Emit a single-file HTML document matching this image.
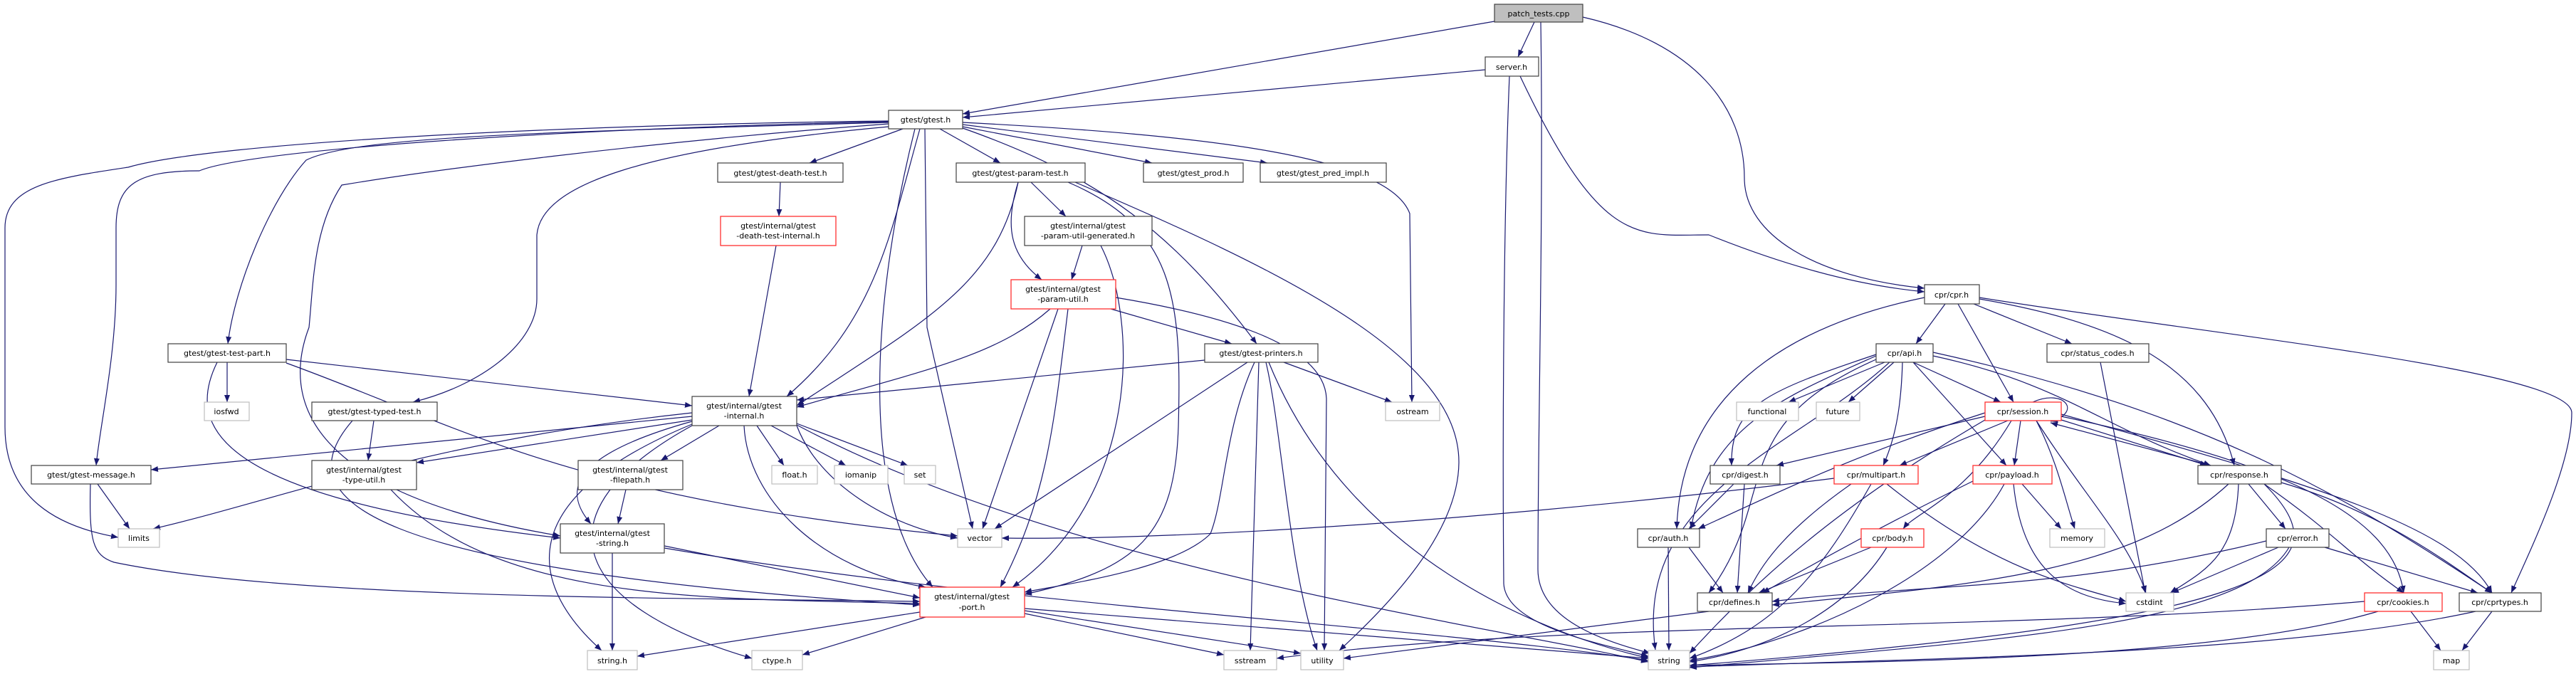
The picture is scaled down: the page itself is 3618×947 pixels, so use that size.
<!DOCTYPE html>
<html><head><meta charset="utf-8"><style>
html,body{margin:0;padding:0;background:#fff;}
svg{display:block;}
text{font-family:"DejaVu Sans","Liberation Sans",sans-serif;font-size:11px;fill:#000;}
.e{fill:none;stroke:#191970;stroke-width:1.2;marker-end:url(#a);}
.n rect{fill:#fff;stroke:#404040;stroke-width:1.2;}
.g rect{fill:#fff;stroke:#bfbfbf;stroke-width:1.2;}
.r rect{fill:#fff;stroke:#ff3030;stroke-width:1.3;}
</style></head><body>
<svg width="3618" height="947" viewBox="0 0 3618 947" xmlns="http://www.w3.org/2000/svg">
<defs><marker id="a" markerUnits="userSpaceOnUse" markerWidth="11" markerHeight="8" refX="10" refY="4" orient="auto"><path d="M0,0 L10,4 L0,8 z" fill="#191970"/></marker></defs>
<g>
<path class="e" d="M2099,30 L1352,160"/>
<path class="e" d="M2155,31 L2132,80"/>
<path class="e" d="M2164,31 C2168,300 2160,600 2160,800 C2160,870 2250,900 2318,918"/>
<path class="e" d="M2223,24 C2380,60 2450,150 2450,250 C2450,330 2550,390 2703,405"/>
<path class="e" d="M2086,98 L1352,165"/>
<path class="e" d="M2120,107 C2112,300 2110,600 2112,820 C2115,880 2250,905 2315,922"/>
<path class="e" d="M2135,107 C2250,350 2300,330 2400,330 C2500,370 2600,400 2703,410"/>
<path class="e" d="M1248,170 C800,175 300,200 180,235 C80,250 7,260 7,320 L7,600 C7,700 80,740 166,755"/>
<path class="e" d="M1248,171 C800,180 350,210 280,240 C190,240 163,260 163,320 L163,400 C163,500 140,600 135,654"/>
<path class="e" d="M1248,172 C800,185 500,190 430,225 C380,280 330,400 320,483"/>
<path class="e" d="M1248,174 C900,200 600,240 480,260 C440,320 440,400 434,460 C396,560 428,693 787,753"/>
<path class="e" d="M1248,178 C900,210 760,260 754,330 L754,420 C754,480 680,540 580,565"/>
<path class="e" d="M1268,181 L1137,229"/>
<path class="e" d="M1320,181 L1405,229"/>
<path class="e" d="M1352,178 L1618,229"/>
<path class="e" d="M1352,175 L1780,229"/>
<path class="e" d="M1352,180 C1550,250 1650,330 1765,483"/>
<path class="e" d="M1352,172 C1700,190 1950,220 1980,300 L1983,565"/>
<path class="e" d="M1299,181 L1302,460 L1366,743"/>
<path class="e" d="M1292,181 C1250,330 1230,450 1105,557"/>
<path class="e" d="M1285,181 C1230,400 1200,700 1310,825"/>
<path class="e" d="M319,509 L319,565"/>
<path class="e" d="M402,505 L972,570"/>
<path class="e" d="M305,509 C260,600 300,700 787,756"/>
<path class="e" d="M402,510 C650,600 800,700 1345,753"/>
<path class="e" d="M525,591 L517,647"/>
<path class="e" d="M495,591 C400,700 500,800 1292,850"/>
<path class="e" d="M1096,256 L1094,304"/>
<path class="e" d="M1090,345 L1052,557"/>
<path class="e" d="M972,585 L212,660"/>
<path class="e" d="M972,580 C600,620 400,700 215,743"/>
<path class="e" d="M972,590 L585,650"/>
<path class="e" d="M1010,598 L928,647"/>
<path class="e" d="M972,592 C800,640 790,690 830,736"/>
<path class="e" d="M972,596 C720,700 740,820 845,914"/>
<path class="e" d="M972,598 C750,720 800,850 1056,925"/>
<path class="e" d="M1063,598 L1101,654"/>
<path class="e" d="M1083,598 L1188,654"/>
<path class="e" d="M1119,595 L1275,654"/>
<path class="e" d="M1119,598 C1150,680 1250,740 1345,756"/>
<path class="e" d="M1045,598 C1050,700 1150,800 1300,825"/>
<path class="e" d="M1119,597 C1500,800 2100,880 2315,930"/>
<path class="e" d="M137,680 L182,743"/>
<path class="e" d="M127,680 C125,760 130,780 160,790 C400,840 900,840 1292,845"/>
<path class="e" d="M549,688 C700,850 1000,840 1292,848"/>
<path class="e" d="M879,688 L868,736"/>
<path class="e" d="M860,777 L860,914"/>
<path class="e" d="M933,767 L1292,840"/>
<path class="e" d="M933,770 C1400,850 2000,880 2315,928"/>
<path class="e" d="M1292,860 L895,922"/>
<path class="e" d="M1300,867 L1127,920"/>
<path class="e" d="M1439,862 L1719,920"/>
<path class="e" d="M1439,858 L1827,918"/>
<path class="e" d="M1439,855 L2315,925"/>
<path class="e" d="M1448,256 L1497,304"/>
<path class="e" d="M1430,256 C1410,320 1420,360 1463,393"/>
<path class="e" d="M1430,256 C1400,400 1300,450 1119,570"/>
<path class="e" d="M1500,256 C1650,320 1660,420 1655,600 C1650,750 1600,800 1439,835"/>
<path class="e" d="M1510,256 C1800,380 2050,500 2049,650 C2048,750 1950,850 1881,914"/>
<path class="e" d="M1520,345 L1505,393"/>
<path class="e" d="M1546,345 C1600,450 1600,700 1422,825"/>
<path class="e" d="M1475,434 C1400,500 1300,520 1119,572"/>
<path class="e" d="M1560,434 L1730,483"/>
<path class="e" d="M1486,434 L1380,743"/>
<path class="e" d="M1500,434 C1480,600 1470,700 1405,825"/>
<path class="e" d="M1567,418 C1700,440 1860,480 1863,560 L1860,914"/>
<path class="e" d="M1692,506 L1119,562"/>
<path class="e" d="M1803,509 L1955,565"/>
<path class="e" d="M1752,509 L1397,743"/>
<path class="e" d="M1762,509 C1720,600 1720,700 1700,750 C1650,800 1500,820 1439,832"/>
<path class="e" d="M1768,509 L1756,914"/>
<path class="e" d="M1778,509 C1800,600 1810,800 1850,914"/>
<path class="e" d="M1782,509 C1900,800 2200,900 2318,925"/>
<path class="e" d="M2732,427 L2691,483"/>
<path class="e" d="M2703,418 C2500,460 2360,560 2355,743"/>
<path class="e" d="M2750,427 L2828,565"/>
<path class="e" d="M2772,427 L2910,483"/>
<path class="e" d="M2780,420 C2950,450 3100,500 3138,654"/>
<path class="e" d="M2780,418 C3100,470 3612,520 3612,580 C3612,650 3560,760 3527,833"/>
<path class="e" d="M2647,509 L2512,565"/>
<path class="e" d="M2660,509 L2596,565"/>
<path class="e" d="M2687,509 L2810,565"/>
<path class="e" d="M2635,498 C2480,550 2430,570 2432,654"/>
<path class="e" d="M2672,509 C2670,580 2660,620 2645,654"/>
<path class="e" d="M2687,509 L2818,654"/>
<path class="e" d="M2715,500 C2900,540 2950,600 3105,654"/>
<path class="e" d="M2715,495 C3100,580 3300,700 3500,833"/>
<path class="e" d="M2635,500 C2500,560 2400,600 2375,743"/>
<path class="e" d="M2635,505 C2420,600 2500,700 2400,833"/>
<path class="e" d="M2656,507 C2524,630 2294,693 2325,913"/>
<path class="e" d="M2950,509 L3013,833"/>
<path class="e" d="M2855,565 C2900,545 2925,580 2880,592"/>
<path class="e" d="M2788,585 L2495,654"/>
<path class="e" d="M2788,580 C2600,640 2480,700 2385,743"/>
<path class="e" d="M2820,591 L2668,654"/>
<path class="e" d="M2838,591 L2829,654"/>
<path class="e" d="M2825,591 C2760,700 2690,720 2673,743"/>
<path class="e" d="M2860,591 C2890,650 2900,700 2914,743"/>
<path class="e" d="M2860,591 C2930,700 2990,760 3014,833"/>
<path class="e" d="M2895,590 L3100,654"/>
<path class="e" d="M3105,654 L2880,594"/>
<path class="e" d="M2895,585 C3200,650 3360,720 3376,833"/>
<path class="e" d="M2895,582 C3250,680 3450,740 3500,833"/>
<path class="e" d="M2788,590 C2600,700 2480,800 2373,918"/>
<path class="e" d="M2435,680 L2372,743"/>
<path class="e" d="M2450,680 L2440,833"/>
<path class="e" d="M2576,672 C2200,720 1700,760 1407,756"/>
<path class="e" d="M2600,680 C2500,750 2470,800 2455,833"/>
<path class="e" d="M2628,680 C2560,800 2500,880 2373,925"/>
<path class="e" d="M2650,680 C2800,800 2900,820 2986,845"/>
<path class="e" d="M2773,675 C2600,760 2500,820 2475,833"/>
<path class="e" d="M2815,680 C2750,800 2550,900 2373,928"/>
<path class="e" d="M2840,680 L2895,743"/>
<path class="e" d="M2828,680 C2840,800 2900,840 2986,848"/>
<path class="e" d="M2628,769 L2470,833"/>
<path class="e" d="M2650,769 C2600,850 2500,910 2373,930"/>
<path class="e" d="M3158,680 L3210,743"/>
<path class="e" d="M3144,680 C3140,780 3100,800 3048,833"/>
<path class="e" d="M3180,680 C3280,750 3300,780 3376,833"/>
<path class="e" d="M3204,678 C3350,720 3450,800 3500,833"/>
<path class="e" d="M3130,680 C3000,800 2800,820 2489,850"/>
<path class="e" d="M3180,680 C3300,800 3200,870 2373,935"/>
<path class="e" d="M3183,760 C2900,830 2700,820 2489,845"/>
<path class="e" d="M3200,769 L3050,833"/>
<path class="e" d="M3265,769 L3480,833"/>
<path class="e" d="M3215,769 C3150,880 2800,900 2373,938"/>
<path class="e" d="M2372,769 L2420,833"/>
<path class="e" d="M2343,769 L2344,914"/>
<path class="e" d="M2400,859 L1887,925"/>
<path class="e" d="M3386,859 L3428,914"/>
<path class="e" d="M3340,859 C3100,930 2600,930 2373,935"/>
<path class="e" d="M3321,845 C2800,890 2200,870 1793,925"/>
<path class="e" d="M3500,859 L3458,914"/>
<path class="e" d="M3477,859 C3200,920 2700,925 2373,937"/>
</g>
<g text-anchor="middle">
<g class="n"><rect x="2099" y="6" width="124" height="25" style="fill:#bfbfbf"/><text x="2161" y="23">patch_tests.cpp</text></g>
<g class="n"><rect x="2086" y="80" width="75" height="27"/><text x="2123" y="98">server.h</text></g>
<g class="n"><rect x="1248" y="155" width="104" height="26"/><text x="1300" y="172">gtest/gtest.h</text></g>
<g class="n"><rect x="1008" y="229" width="176" height="27"/><text x="1096" y="247">gtest/gtest-death-test.h</text></g>
<g class="n"><rect x="1343" y="229" width="181" height="27"/><text x="1433" y="247">gtest/gtest-param-test.h</text></g>
<g class="n"><rect x="1606" y="229" width="140" height="27"/><text x="1676" y="247">gtest/gtest_prod.h</text></g>
<g class="n"><rect x="1770" y="229" width="177" height="27"/><text x="1858" y="247">gtest/gtest_pred_impl.h</text></g>
<g class="r"><rect x="1012" y="304" width="162" height="41"/><text x="1093" y="321">gtest/internal/gtest</text><text x="1093" y="335">-death-test-internal.h</text></g>
<g class="n"><rect x="1439" y="304" width="179" height="41"/><text x="1528" y="321">gtest/internal/gtest</text><text x="1528" y="335">-param-util-generated.h</text></g>
<g class="r"><rect x="1420" y="393" width="147" height="41"/><text x="1493" y="410">gtest/internal/gtest</text><text x="1493" y="424">-param-util.h</text></g>
<g class="n"><rect x="236" y="483" width="166" height="26"/><text x="319" y="500">gtest/gtest-test-part.h</text></g>
<g class="n"><rect x="1692" y="483" width="159" height="26"/><text x="1771" y="500">gtest/gtest-printers.h</text></g>
<g class="g"><rect x="287" y="565" width="63" height="26"/><text x="318" y="582">iosfwd</text></g>
<g class="n"><rect x="438" y="565" width="176" height="26"/><text x="526" y="582">gtest/gtest-typed-test.h</text></g>
<g class="g"><rect x="1946" y="565" width="76" height="26"/><text x="1984" y="582">ostream</text></g>
<g class="n"><rect x="972" y="557" width="147" height="41"/><text x="1045" y="574">gtest/internal/gtest</text><text x="1045" y="588">-internal.h</text></g>
<g class="n"><rect x="44" y="654" width="168" height="26"/><text x="128" y="671">gtest/gtest-message.h</text></g>
<g class="n"><rect x="438" y="647" width="147" height="41"/><text x="511" y="664">gtest/internal/gtest</text><text x="511" y="678">-type-util.h</text></g>
<g class="n"><rect x="812" y="647" width="147" height="41"/><text x="885" y="664">gtest/internal/gtest</text><text x="885" y="678">-filepath.h</text></g>
<g class="g"><rect x="1084" y="654" width="64" height="26"/><text x="1116" y="671">float.h</text></g>
<g class="g"><rect x="1172" y="654" width="75" height="26"/><text x="1209" y="671">iomanip</text></g>
<g class="g"><rect x="1270" y="654" width="44" height="26"/><text x="1292" y="671">set</text></g>
<g class="g"><rect x="166" y="743" width="58" height="26"/><text x="195" y="760">limits</text></g>
<g class="n"><rect x="787" y="736" width="146" height="41"/><text x="860" y="753">gtest/internal/gtest</text><text x="860" y="767">-string.h</text></g>
<g class="g"><rect x="1345" y="743" width="62" height="26"/><text x="1376" y="760">vector</text></g>
<g class="r"><rect x="1292" y="825" width="147" height="42"/><text x="1365" y="842">gtest/internal/gtest</text><text x="1365" y="857">-port.h</text></g>
<g class="g"><rect x="825" y="914" width="70" height="27"/><text x="860" y="932">string.h</text></g>
<g class="g"><rect x="1056" y="914" width="71" height="27"/><text x="1091" y="932">ctype.h</text></g>
<g class="g"><rect x="1719" y="914" width="74" height="27"/><text x="1756" y="932">sstream</text></g>
<g class="g"><rect x="1827" y="914" width="60" height="27"/><text x="1857" y="932">utility</text></g>
<g class="g"><rect x="2315" y="914" width="58" height="27"/><text x="2344" y="932">string</text></g>
<g class="n"><rect x="2703" y="400" width="77" height="27"/><text x="2741" y="418">cpr/cpr.h</text></g>
<g class="n"><rect x="2635" y="483" width="80" height="26"/><text x="2675" y="500">cpr/api.h</text></g>
<g class="n"><rect x="2875" y="483" width="143" height="26"/><text x="2946" y="500">cpr/status_codes.h</text></g>
<g class="g"><rect x="2439" y="565" width="87" height="26"/><text x="2482" y="582">functional</text></g>
<g class="g"><rect x="2551" y="565" width="61" height="26"/><text x="2581" y="582">future</text></g>
<g class="r"><rect x="2788" y="565" width="107" height="26"/><text x="2841" y="582">cpr/session.h</text></g>
<g class="n"><rect x="2402" y="654" width="98" height="26"/><text x="2451" y="671">cpr/digest.h</text></g>
<g class="r"><rect x="2576" y="654" width="118" height="26"/><text x="2635" y="671">cpr/multipart.h</text></g>
<g class="r"><rect x="2771" y="654" width="111" height="26"/><text x="2826" y="671">cpr/payload.h</text></g>
<g class="n"><rect x="3087" y="654" width="117" height="26"/><text x="3145" y="671">cpr/response.h</text></g>
<g class="n"><rect x="2300" y="743" width="87" height="26"/><text x="2343" y="760">cpr/auth.h</text></g>
<g class="r"><rect x="2614" y="743" width="88" height="26"/><text x="2658" y="760">cpr/body.h</text></g>
<g class="g"><rect x="2879" y="743" width="77" height="26"/><text x="2917" y="760">memory</text></g>
<g class="n"><rect x="3183" y="743" width="88" height="26"/><text x="3227" y="760">cpr/error.h</text></g>
<g class="n"><rect x="2384" y="833" width="105" height="26"/><text x="2436" y="850">cpr/defines.h</text></g>
<g class="g"><rect x="2986" y="833" width="67" height="26"/><text x="3019" y="850">cstdint</text></g>
<g class="r"><rect x="3321" y="833" width="109" height="26"/><text x="3375" y="850">cpr/cookies.h</text></g>
<g class="n"><rect x="3454" y="833" width="115" height="26"/><text x="3511" y="850">cpr/cprtypes.h</text></g>
<g class="g"><rect x="3418" y="914" width="50" height="27"/><text x="3443" y="932">map</text></g>
</g>
</svg>
</body></html>
